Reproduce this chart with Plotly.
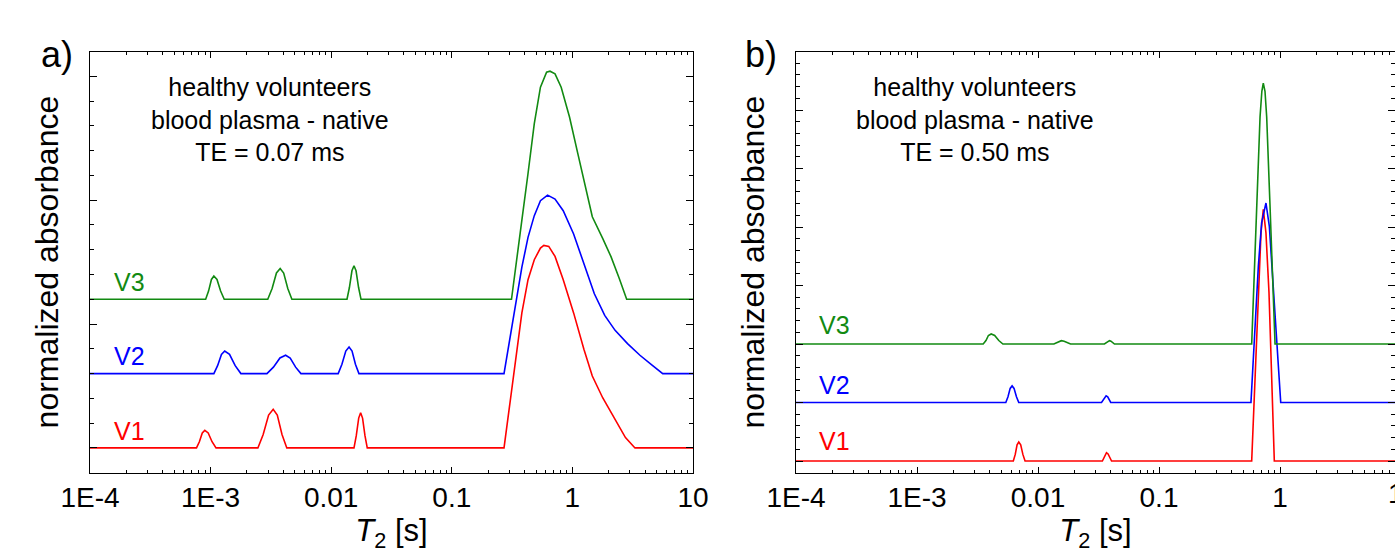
import numpy as np
import plotly.graph_objects as go

# ---------------- data (log10 T2 [s], absorbance above baseline) ----------------
# Panel a) TE = 0.07 ms
a_v1_logt = [-4.0,
             -3.117, -3.093, -3.069, -3.048, -3.020, -2.988, -2.955,
             -2.608, -2.564, -2.519, -2.481, -2.447, -2.408, -2.368,
             -1.811, -1.792, -1.772, -1.756, -1.740, -1.720, -1.701,
             -0.567, -0.522, -0.471, -0.419, -0.368, -0.316, -0.265, -0.237, -0.196, -0.144,
             -0.076, 0.010, 0.096, 0.165, 0.251, 0.354, 0.440, 0.519,
             1.0]
a_v1_abs = [0.0,
            0.0, 0.050, 0.121, 0.142, 0.121, 0.050, 0.0,
            0.0, 0.109, 0.265, 0.312, 0.265, 0.109, 0.0,
            0.0, 0.099, 0.241, 0.284, 0.241, 0.099, 0.0,
            0.0, 0.338, 0.714, 1.090, 1.358, 1.519, 1.613, 1.635, 1.627, 1.546,
            1.358, 1.090, 0.794, 0.580, 0.405, 0.231, 0.083, 0.0,
            0.0]

a_v2_logt = [-4.0,
             -2.973, -2.942, -2.910, -2.883, -2.843, -2.796, -2.749,
             -2.533, -2.479, -2.425, -2.378, -2.340, -2.295, -2.251,
             -1.942, -1.911, -1.879, -1.852, -1.827, -1.799, -1.770,
             -0.567, -0.522, -0.471, -0.419, -0.368, -0.316, -0.265, -0.206, -0.144, -0.076,
             0.010, 0.096, 0.182, 0.268, 0.354, 0.457, 0.560, 0.663, 0.749,
             1.0]
a_v2_abs = [0.0,
            0.0, 0.064, 0.155, 0.182, 0.155, 0.064, 0.0,
            0.0, 0.052, 0.126, 0.148, 0.126, 0.052, 0.0,
            0.0, 0.075, 0.182, 0.214, 0.182, 0.075, 0.0,
            0.0, 0.268, 0.564, 0.859, 1.100, 1.275, 1.396, 1.441, 1.409, 1.315,
            1.127, 0.886, 0.644, 0.470, 0.349, 0.242, 0.148, 0.067, 0.0,
            0.0]

a_v3_logt = [-4.0,
             -3.041, -3.017, -2.993, -2.973, -2.947, -2.917, -2.887,
             -2.526, -2.490, -2.454, -2.423, -2.394, -2.360, -2.326,
             -1.869, -1.849, -1.828, -1.811, -1.794, -1.773, -1.753,
             -0.505, -0.471, -0.419, -0.368, -0.316, -0.265, -0.214, -0.186, -0.144, -0.093,
             -0.024, 0.045, 0.113, 0.165, 0.251, 0.320, 0.388, 0.450,
             1.0]
a_v3_abs = [0.0,
            0.0, 0.066, 0.160, 0.188, 0.160, 0.066, 0.0,
            0.0, 0.087, 0.212, 0.249, 0.212, 0.087, 0.0,
            0.0, 0.095, 0.230, 0.271, 0.230, 0.095, 0.0,
            0.0, 0.236, 0.639, 1.015, 1.417, 1.712, 1.833, 1.841, 1.820, 1.712,
            1.471, 1.176, 0.880, 0.666, 0.491, 0.344, 0.169, 0.0,
            0.0]

# Panel b) TE = 0.50 ms
b_v1_logt = [-4.0,
             -2.204, -2.188, -2.173, -2.159, -2.143, -2.125, -2.107,
             -1.468, -1.456, -1.444, -1.434, -1.421, -1.405, -1.392,
             -0.234, -0.207, -0.179, -0.157, -0.138, -0.116, -0.091, -0.069, -0.047,
             1.0]
b_v1_abs = [0.0,
            0.0, 0.113, 0.275, 0.324, 0.275, 0.113, 0.0,
            0.0, 0.050, 0.121, 0.142, 0.121, 0.050, 0.0,
            0.0, 1.45, 2.88, 3.90, 4.30, 3.90, 2.88, 1.45, 0.0,
            0.0]

b_v2_logt = [-4.0,
             -2.266, -2.248, -2.230, -2.214, -2.198, -2.178, -2.159,
             -1.475, -1.462, -1.450, -1.437, -1.424, -1.412, -1.399,
             -0.240, -0.207, -0.179, -0.152, -0.116, -0.088, -0.061, -0.028, 0.006,
             1.0]
b_v2_abs = [0.0,
            0.0, 0.099, 0.241, 0.284, 0.241, 0.099, 0.0,
            0.0, 0.040, 0.097, 0.114, 0.097, 0.040, 0.0,
            0.0, 1.30, 2.33, 3.07, 3.41, 3.01, 2.15, 1.01, 0.0,
            0.0]

b_v3_logt = [-4.0,
             -2.453, -2.430, -2.410, -2.387, -2.358, -2.324, -2.290,
             -1.869, -1.847, -1.826, -1.807, -1.784, -1.758, -1.731,
             -1.451, -1.436, -1.422, -1.409, -1.397, -1.382, -1.368,
             -0.234, -0.215, -0.193, -0.165, -0.150, -0.138, -0.124, -0.110, -0.083, -0.060, -0.041,
             1.0]
b_v3_abs = [0.0,
            0.0, 0.060, 0.145, 0.171, 0.145, 0.060, 0.0,
            0.0, 0.020, 0.048, 0.057, 0.048, 0.020, 0.0,
            0.0, 0.020, 0.048, 0.057, 0.048, 0.020, 0.0,
            0.0, 1.14, 2.45, 3.88, 4.32, 4.46, 4.32, 3.88, 2.39, 1.14, 0.0,
            0.0]

# vertical stacking offsets of the curves
a_offsets = {"V1": 0.0, "V2": 0.6, "V3": 1.2}
b_offsets = {"V1": 0.0, "V2": 1.0, "V3": 2.0}

series_names = ["V1", "V2", "V3"]
colors = {"V1": "#ff0000", "V2": "#0000ff", "V3": "#128a12"}

x_tickvals = [1e-4, 1e-3, 1e-2, 1e-1, 1, 10]
x_ticktext = ["1E-4", "1E-3", "0.01", "0.1", "1", "10"]

panel_text_a = "healthy volunteers<br>blood plasma - native<br>TE = 0.07 ms"
panel_text_b = "healthy volunteers<br>blood plasma - native<br>TE = 0.50 ms"

# ---------------- figure ----------------
W, H = 1395, 559
FONT = "Liberation Sans, Arial, sans-serif"

fig = go.Figure()

panel_a = {"V1": (a_v1_logt, a_v1_abs), "V2": (a_v2_logt, a_v2_abs), "V3": (a_v3_logt, a_v3_abs)}
panel_b = {"V1": (b_v1_logt, b_v1_abs), "V2": (b_v2_logt, b_v2_abs), "V3": (b_v3_logt, b_v3_abs)}

for name in series_names:
    lt, ab = panel_a[name]
    fig.add_trace(go.Scatter(x=10 ** np.array(lt), y=np.array(ab) + a_offsets[name],
                             mode="lines", line=dict(color=colors[name], width=1.6),
                             xaxis="x", yaxis="y", showlegend=False, name=name))
for name in series_names:
    lt, ab = panel_b[name]
    fig.add_trace(go.Scatter(x=10 ** np.array(lt), y=np.array(ab) + b_offsets[name],
                             mode="lines", line=dict(color=colors[name], width=1.6),
                             xaxis="x2", yaxis="y2", showlegend=False, name=name))

ydom = [1 - 472.7 / H, 1 - 51.5 / H]

def xaxis_cfg(domain, rng, anchor):
    return dict(type="log", domain=domain, range=rng, anchor=anchor, automargin=False,
                tickmode="array", tickvals=x_tickvals, ticktext=x_ticktext,
                ticks="inside", ticklen=6, tickwidth=1, tickcolor="black",
                minor=dict(ticks="inside", ticklen=3, tickwidth=1, tickcolor="black",
                           dtick="D1", showgrid=False),
                showline=True, linecolor="black", linewidth=1.3, mirror="allticks",
                showgrid=False, zeroline=False,
                tickfont=dict(family=FONT, size=28, color="black"),
                title=dict(text="<i>T</i><sub>2</sub> [s]", standoff=0,
                           font=dict(family=FONT, size=31, color="black")))

def yaxis_cfg(rng, anchor):
    return dict(domain=ydom, range=rng, anchor=anchor, automargin=False,
                showticklabels=False,
                tickmode="linear", tick0=0, dtick=1,
                ticks="inside", ticklen=7, tickwidth=1, tickcolor="black",
                minor=dict(ticks="inside", ticklen=4, tickwidth=1, tickcolor="black",
                           dtick=0.2, tick0=0, showgrid=False),
                showline=True, linecolor="black", linewidth=1.3, mirror="allticks",
                showgrid=False, zeroline=False,
                title=dict(text="normalized absorbance", standoff=20,
                           font=dict(family=FONT, size=32, color="black")))

xa = xaxis_cfg([90 / W, 693 / W], [-4, 1], "y")
xb = xaxis_cfg([796 / W, 1.0], [-4, -4 + 599 / 121], "y2")
ya = yaxis_cfg([-0.2, 3.2], "x")
yb = yaxis_cfg([-0.2, 7.0], "x2")

annotations = []
# panel labels
annotations.append(dict(text="a)", x=57 / W, y=1 - 55 / H, xref="paper", yref="paper",
                        xanchor="center", yanchor="middle",
                        showarrow=False, font=dict(family=FONT, size=36, color="black")))
annotations.append(dict(text="b)", x=761 / W, y=1 - 55 / H, xref="paper", yref="paper",
                        xanchor="center", yanchor="middle",
                        showarrow=False, font=dict(family=FONT, size=36, color="black")))
# descriptive texts
annotations.append(dict(text=panel_text_a, x=-2.51, y=2.65, xref="x", yref="y",
                        xanchor="center", yanchor="middle",
                        showarrow=False, align="center",
                        font=dict(family=FONT, size=25, color="black")))
annotations.append(dict(text=panel_text_b, x=-2.52, y=5.83, xref="x2", yref="y2",
                        xanchor="center", yanchor="middle",
                        showarrow=False, align="center",
                        font=dict(family=FONT, size=25, color="black")))
# series labels
a_label_y = {"V1": 0.14, "V2": 0.74, "V3": 1.34}
b_label_y = {"V1": 0.34, "V2": 1.30, "V3": 2.32}
for name in series_names:
    annotations.append(dict(text=name, x=-3.67, y=a_label_y[name], xref="x", yref="y",
                            xanchor="center", yanchor="middle",
                            showarrow=False, font=dict(family=FONT, size=25, color=colors[name])))
    annotations.append(dict(text=name, x=-3.68, y=b_label_y[name], xref="x2", yref="y2",
                            xanchor="center", yanchor="middle",
                            showarrow=False, font=dict(family=FONT, size=25, color=colors[name])))
# "10" tick label of panel b, lying mostly beyond the visible page
annotations.append(dict(text="10", x=1386 / W, y=1 - 493 / H, xref="paper", yref="paper",
                        xanchor="left", yanchor="middle", showarrow=False,
                        font=dict(family=FONT, size=28, color="black")))

fig.update_layout(width=W, height=H, margin=dict(l=0, r=0, t=0, b=0),
                  paper_bgcolor="white", plot_bgcolor="white",
                  xaxis=xa, yaxis=ya, xaxis2=xb, yaxis2=yb,
                  annotations=annotations, showlegend=False)

fig.write_html("out.html",
               config={"displayModeBar": False},
               post_script="document.body.style.margin='0px';"
                           "document.body.style.padding='0px';"
                           "document.body.style.overflow='hidden';")
